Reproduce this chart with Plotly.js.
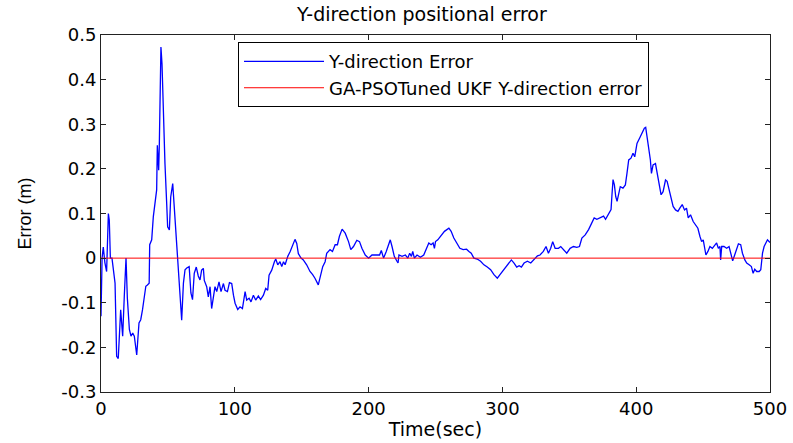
<!DOCTYPE html>
<html>
<head>
<meta charset="utf-8">
<script src="https://cdn.plot.ly/plotly-3.0.1.min.js"></script>
<style>html,body{margin:0;padding:0;background:#fff;}#chart{width:793px;height:443px;}</style>
</head>
<body>
<div id="chart"></div>
<script>
// Time (sec) samples of the blue error curve
var timeSec = [0, 0.8, 1.7, 2.9, 4.2, 5.5, 6.2, 7, 8.2, 10.5, 11.7, 12.9, 14.7, 16.2, 17.4, 18.7, 19.7, 21.2, 22.4, 23.7, 24.9, 26.7, 28.4, 29.7, 31, 32.2, 33.5, 34.7, 36, 36.4, 37.9, 39.1, 40.4, 41.6, 42.1, 43.1, 43.6, 44.8, 45.6, 46.6, 47.8, 49.1, 49.8, 51.1, 52.1, 53.6, 54.6, 56.1, 57.4, 58.6, 60.3, 61.6, 62.8, 64.1, 65.9, 67.2, 68.4, 69.7, 71.2, 72.7, 74, 75.2, 76.5, 77.2, 79, 80.2, 81.5, 82.7, 84, 85.2, 86.5, 88.2, 89.7, 91.5, 92.7, 94.5, 96, 97.7, 99, 100.2, 102.2, 103.9, 105.7, 107.7, 108.9, 110.7, 112.1, 113.9, 115.6, 117.6, 119.3, 121.4, 123.1, 124.6, 125.6, 127.6, 129.6, 130.6, 132.1, 133.8, 135.1, 136.4, 137.6, 139.6, 141.4, 143.4, 145, 146.3, 147.5,
  149.5, 151.2, 153.7, 156.2, 158.2, 159.9, 162.4, 163.7, 165.7, 167.5, 168.7, 171.2, 173, 175, 176.7, 178.2, 180.2, 182.5, 185, 186.7, 188.7, 191.2, 193.2, 195, 197.5, 200, 202.5, 205.7, 208.2, 209.5, 211.2, 213.2, 215, 216.2, 217.5, 219.2, 221.2, 222, 222.7, 225, 227.5, 229.3, 230.7, 232, 233, 234.2, 236.2, 238.7, 241.2, 243.2, 245, 246.7, 248.2, 249.2, 250, 251.7, 253.7, 256.7, 260, 261.7, 263.7, 265.7, 268.2, 270.7, 273.2, 275, 276.7, 278.7, 281.2, 283.7, 286.2, 288.7, 291.2, 293.7, 296.2, 298.2, 300, 302.5, 305, 306.7, 308.7, 310.7, 312.5, 314.2, 316.2, 318.7, 321.2, 323.7, 326.2,
  328.1, 330.6, 332.6, 334.4, 336.1, 337.6, 339.4, 341.9, 343.6, 345.6, 348.1, 350.6, 353.1, 355.6, 357.6, 359.4, 361.9, 364.4, 366.9, 368.6, 370.6, 373.1, 375.6, 377.1, 379.4, 381.2, 381.9, 382.7, 383.7, 384.7, 385.7, 386.9, 388.1, 390.1, 391.9, 393.1, 394.4, 396.1, 397.6, 398.9, 400.6, 402.6, 404.4, 406.1, 407.1, 408.1, 409.4, 410.6, 411.4, 412.6, 414.4, 416.1, 417.6, 418.6, 420.1, 421.9, 423.1, 424.4, 425.6, 427.6, 429.4, 431.2, 432.6, 434.4, 436.1, 437.6, 438.9, 440.6, 442.6, 444.4, 446.1, 447.6, 448.9, 450.1, 451.1, 452.1, 453.6, 455.1, 456.9, 458.6, 460.1, 461.4, 462.6, 463.1, 463.9, 465.6, 467.6, 469.4, 470.6, 472.1, 473.6, 475.1, 476.4, 478.1, 479.4, 481.2, 482.6, 484.4, 486.1, 487.4, 488.6, 490.1, 491.9, 493.1, 494.4, 495.6, 496.9, 498.1, 500];

// Y-direction error (m), blue curve
var yError = [-0.13, 0.0, 0.025, -0.01, -0.03, 0.10, 0.085, 0.0, 0.0, -0.056, -0.22, -0.225, -0.116, -0.175, -0.086, 0.0, -0.09, -0.16, -0.175, -0.168, -0.175, -0.217, -0.145, -0.138, -0.116, -0.086, -0.063, -0.06, -0.056, 0.03, 0.041, 0.093, 0.13, 0.153, 0.253, 0.197, 0.256, 0.473, 0.435, 0.316, 0.212, 0.122, 0.07, 0.063, 0.137, 0.167, 0.122, 0.056, 0.004, -0.063, -0.139, -0.056, -0.026, -0.022, -0.019, -0.078, -0.093, -0.034, -0.02, -0.04, -0.049, -0.027, -0.023, -0.05, -0.064, -0.087, -0.064, -0.113, -0.087, -0.064, -0.075, -0.053, -0.075, -0.057, -0.072, -0.075, -0.055, -0.057, -0.083, -0.101, -0.115, -0.109, -0.113, -0.075, -0.094, -0.09, -0.098, -0.083, -0.094, -0.085, -0.093, -0.083, -0.068, -0.072, -0.038, -0.027, -0.008, -0.002, -0.015, -0.008, -0.019, -0.008, -0.015, 0.004, 0.015, 0.03, 0.042, 0.033, 0.01,
  0.0, -0.004, -0.015, -0.03, -0.037, -0.045, -0.06, -0.045, -0.019, -0.008, 0.011, 0.019, 0.015, 0.03, 0.03, 0.049, 0.065, 0.056, 0.037, 0.019, 0.026, 0.04, 0.037, 0.022, 0.007, 0.0, 0.007, 0.007, 0.007, 0.017, 0.0, 0.015, 0.03, 0.041, 0.026, 0.004, -0.007, -0.011, 0.007, 0.004, 0.007, 0.0, 0.011, 0.004, 0.015, 0.0, 0.007, 0.002, 0.007, 0.022, 0.034, 0.03, 0.034, 0.022, 0.037, 0.041, 0.049, 0.06, 0.067, 0.06, 0.045, 0.034, 0.022, 0.019, 0.02, 0.015, 0.011, 0.0, -0.002, -0.007, -0.015, -0.02, -0.026, -0.037, -0.045, -0.037, -0.03, -0.019, -0.011, -0.004, -0.011, -0.02, -0.017, -0.02, -0.011, -0.007, -0.011, -0.004, 0.005,
  0.007, 0.015, 0.026, 0.011, 0.022, 0.037, 0.022, 0.022, 0.026, 0.019, 0.011, 0.022, 0.026, 0.024, 0.026, 0.045, 0.052, 0.064, 0.079, 0.09, 0.087, 0.09, 0.094, 0.087, 0.098, 0.109, 0.142, 0.176, 0.164, 0.138, 0.127, 0.142, 0.16, 0.157, 0.164, 0.19, 0.22, 0.224, 0.235, 0.227, 0.257, 0.269, 0.28, 0.291, 0.293, 0.272, 0.25, 0.22, 0.19, 0.209, 0.212, 0.183, 0.16, 0.142, 0.149, 0.175, 0.172, 0.157, 0.138, 0.116, 0.108, 0.105, 0.112, 0.12, 0.108, 0.112, 0.09, 0.097, 0.082, 0.075, 0.067, 0.049, 0.037, 0.041, 0.026, 0.007, 0.015, 0.026, 0.022, 0.03, 0.034, 0.022, 0.026, -0.004, 0.026, 0.026, 0.022, 0.026, 0.011, -0.006, 0.007, 0.022, 0.032, 0.03, 0.011, -0.004, -0.011, -0.015, -0.019, -0.034, -0.025, -0.03, -0.03, -0.026, 0.011, 0.026, 0.034, 0.041, 0.035];

// Red reference line (GA-PSO tuned UKF error)
var ukfTime = [0, 500];
var ukfError = [0, 0];

var seriesNames = ["Y-direction Error", "GA-PSOTuned UKF Y-direction error"];
var xTickVals = [0, 100, 200, 300, 400, 500];
var xTickText = ["0", "100", "200", "300", "400", "500"];
var yTickVals = [0.5, 0.4, 0.3, 0.2, 0.1, 0, -0.1, -0.2, -0.3];
var yTickText = ["0.5", "0.4", "0.3", "0.2", "0.1", "0", "-0.1", "-0.2", "-0.3"];

var FONT = "DejaVu Sans, Liberation Sans, Arial, sans-serif";

var traces = [
  {x: timeSec, y: yError, type: "scatter", mode: "lines", name: seriesNames[0],
   line: {color: "#0000ff", width: 1.3}},
  {x: ukfTime, y: ukfError, type: "scatter", mode: "lines", name: seriesNames[1],
   line: {color: "#ff0000", width: 1}}
];

var axisCommon = {
  showgrid: false, zeroline: false, showline: true, linecolor: "#222", linewidth: 1,
  ticks: "inside", ticklen: 5, tickcolor: "#222", mirror: "ticks",
  tickfont: {family: FONT, size: 18, color: "#000"}
};

var layout = {
  width: 793, height: 443,
  margin: {l: 101, r: 23, t: 35, b: 51},
  paper_bgcolor: "#fff", plot_bgcolor: "#fff",
  title: {text: "Y-direction positional error", font: {family: FONT, size: 19, color: "#000"},
          x: 0.532, xref: "container", xanchor: "center", y: 0.968, yref: "container", yanchor: "middle"},
  xaxis: Object.assign({}, axisCommon, {
    range: [0, 500], tickmode: "array", tickvals: xTickVals, ticktext: xTickText,
    title: {text: "Time(sec)", font: {family: FONT, size: 19, color: "#000"}, standoff: 5}
  }),
  yaxis: Object.assign({}, axisCommon, {
    range: [-0.3, 0.5], tickmode: "array", tickvals: yTickVals, ticktext: yTickText,
    title: {text: "Error (m)", font: {family: "Liberation Sans, Arial, sans-serif", size: 18, color: "#000"}, standoff: 24}
  }),
  showlegend: true,
  legend: {x: 0.2048, y: 0.98, xanchor: "left", yanchor: "top", bgcolor: "#fff",
           bordercolor: "#000", borderwidth: 1, itemwidth: 80, tracegroupgap: 0,
           font: {family: FONT, size: 18, color: "#000"}}
};

Plotly.newPlot("chart", traces, layout, {displayModeBar: false, staticPlot: true});
</script>
</body>
</html>
